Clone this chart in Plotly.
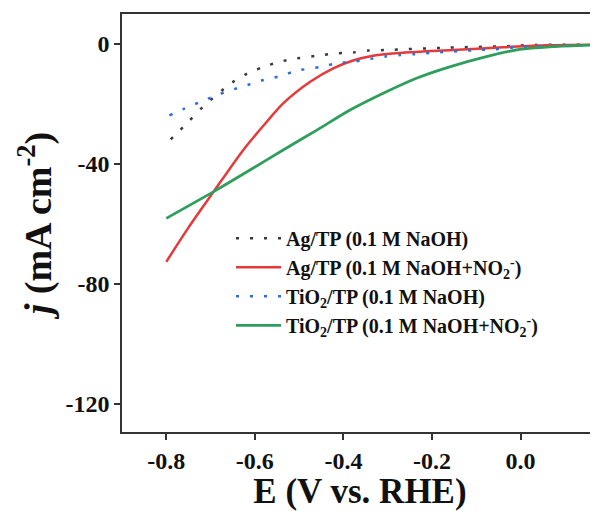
import plotly.graph_objects as go

# Ag/TP (0.1 M NaOH) - black dotted
e_ag_naoh = [-0.79, -0.784, -0.75, -0.717, -0.65, -0.615, -0.58, -0.543, -0.505, -0.449,
             -0.415, -0.378, -0.345, -0.306, -0.164, -0.024, 0.01, 0.175]
j_ag_naoh = [-31.8, -30.9, -25.9, -20.9, -12.7, -9.7, -7.6, -5.9, -4.8, -3.7,
             -3.1, -2.8, -2.2, -2.0, -1.2, -0.7, -0.4, -0.2]

# Ag/TP (0.1 M NaOH + NO2-) - red solid
e_ag_no2 = [-0.8, -0.75, -0.693, -0.626, -0.573, -0.536, -0.475, -0.423, -0.378, -0.333,
            -0.266, -0.153, -0.04, 0.06, 0.175]
j_ag_no2 = [-72.6, -61.2, -49.2, -35.3, -25.9, -19.8, -12.6, -8.1, -5.5, -3.9,
            -2.9, -2.0, -1.1, -0.4, -0.2]

# TiO2/TP (0.1 M NaOH) - blue dotted
e_ti_naoh = [-0.793, -0.757, -0.722, -0.685, -0.652, -0.617, -0.58, -0.543, -0.505, -0.449,
             -0.415, -0.378, -0.345, -0.306, -0.272, -0.239, -0.2, -0.164, -0.13, -0.096,
             -0.063, 0.0, 0.175]
j_ti_naoh = [-23.8, -21.4, -19.2, -17.0, -15.3, -13.7, -12.0, -10.7, -8.9, -7.6,
             -6.4, -5.9, -5.1, -4.2, -3.7, -3.4, -2.9, -2.6, -2.3, -2.0,
             -1.8, -1.0, -0.3]

# TiO2/TP (0.1 M NaOH + NO2-) - green solid
e_ti_no2 = [-0.8, -0.693, -0.611, -0.536, -0.46, -0.385, -0.31, -0.235, -0.16, -0.077,
            -0.002, 0.072, 0.175]
j_ti_no2 = [-58.1, -49.2, -42.0, -35.3, -28.7, -22.0, -16.4, -11.4, -7.6, -4.2,
            -1.8, -0.9, -0.3]

x_ticks = [-0.8, -0.6, -0.4, -0.2, 0.0]
x_tick_labels = ["-0.8", "-0.6", "-0.4", "-0.2", "0.0"]
y_ticks = [0, -40, -80, -120]
y_tick_labels = ["0", "-40", "-80", "-120"]

FONT = "Liberation Serif"

fig = go.Figure()
fig.add_trace(go.Scatter(x=e_ag_naoh, y=j_ag_naoh, mode="lines",
                         name="<b>Ag/TP (0.1 M NaOH)</b>",
                         line=dict(color="#3a3a3a", width=2.5, dash="3px,11px",
                                   shape="spline", smoothing=0.8)))
fig.add_trace(go.Scatter(x=e_ag_no2, y=j_ag_no2, mode="lines",
                         name="<b>Ag/TP (0.1 M NaOH+NO<sub>2</sub><sup>-</sup>)</b>",
                         line=dict(color="#e5393b", width=2.5, shape="spline", smoothing=0.8)))
fig.add_trace(go.Scatter(x=e_ti_naoh, y=j_ti_naoh, mode="lines",
                         name="<b>TiO<sub>2</sub>/TP (0.1 M NaOH)</b>",
                         line=dict(color="#2f6fd2", width=2.5, dash="3px,11px",
                                   shape="spline", smoothing=0.8)))
fig.add_trace(go.Scatter(x=e_ti_no2, y=j_ti_no2, mode="lines",
                         name="<b>TiO<sub>2</sub>/TP (0.1 M NaOH+NO<sub>2</sub><sup>-</sup>)</b>",
                         line=dict(color="#2f9e5c", width=2.8, shape="spline", smoothing=0.8)))

fig.update_layout(
    width=590, height=503,
    margin=dict(l=114, r=0, t=6, b=79),
    paper_bgcolor="white", plot_bgcolor="white",
    font=dict(family=FONT, color="#111111"),
    showlegend=True,
    legend=dict(x=0.229, y=0.51, xanchor="left", yanchor="top",
                font=dict(family=FONT, size=20, color="#111111"),
                itemwidth=45,
                bgcolor="rgba(0,0,0,0)", tracegroupgap=0),
    xaxis=dict(range=[-0.9, 0.175], tickvals=x_ticks, ticktext=x_tick_labels,
               showgrid=False, zeroline=False, showline=True, linecolor="#333333",
               linewidth=1.5, mirror=True, ticks="outside", ticklen=6, tickwidth=1.5,
               tickcolor="#333333",
               tickfont=dict(family=FONT, size=24, color="#111111", weight="bold"),
               title=dict(text="<b>E (V vs. RHE)</b>", standoff=2,
                          font=dict(family=FONT, size=35, color="#111111"))),
    yaxis=dict(range=[-129.3, 10], tickvals=y_ticks, ticktext=y_tick_labels,
               showgrid=False, zeroline=False, showline=True, linecolor="#333333",
               linewidth=1.5, ticks="outside", ticklen=6, tickwidth=1.5,
               tickcolor="#333333",
               tickfont=dict(family=FONT, size=24, color="#111111", weight="bold"),
               title=dict(text="<b><i>j</i> (mA cm<sup>-2</sup>)</b>", standoff=2,
                          font=dict(family=FONT, size=38, color="#111111"))),
)

fig.write_html("out.html")
